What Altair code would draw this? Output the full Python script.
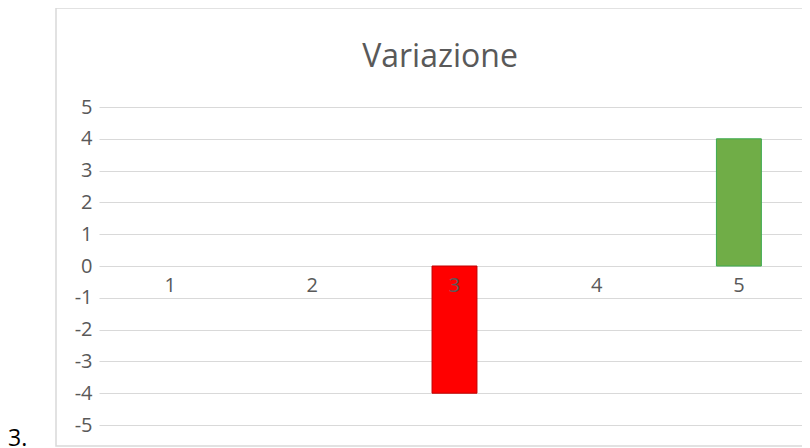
import altair as alt
import pandas as pd

categories = [1, 2, 3, 4, 5]
values = [0, 0, -4, 0, 4]
y_ticks = [-5, -4, -3, -2, -1, 0, 1, 2, 3, 4, 5]
title_text = "Variazione"
side_label = "3."

df = pd.DataFrame({"cat": categories, "value": values})

FONT = "Open Sans"
GRAY = "#595959"

xscale = alt.Scale(domain=categories, paddingInner=0.684, paddingOuter=0.342)
yscale = alt.Scale(domain=[-5, 5], nice=False)
yaxis = alt.Axis(values=y_ticks, grid=True, gridColor="#D9D9D9", gridWidth=1,
                 domain=False, ticks=False, labelPadding=7, labelFontSize=20,
                 labelFont=FONT, labelColor=GRAY, title=None, labelOverlap=False,
                 labelExpr="'' + datum.value")

base = alt.Chart(df)

bars = base.transform_filter("datum.value != 0").mark_bar(strokeWidth=1).encode(
    x=alt.X("cat:O", scale=xscale, axis=None),
    y=alt.Y("value:Q", scale=yscale, axis=yaxis),
    y2=alt.datum(0),
    color=alt.condition("datum.value < 0", alt.value("#FF0000"), alt.value("#70AD47")),
    stroke=alt.condition("datum.value < 0", alt.value("#C00000"), alt.value("#3DAA4F")),
)

xlabels = base.mark_text(font=FONT, fontSize=20, color=GRAY, baseline="middle", dy=20).encode(
    x=alt.X("cat:O", scale=xscale, axis=None),
    y=alt.datum(0, scale=yscale, axis=yaxis),
    text=alt.Text("cat:N"),
)

border = alt.Chart(pd.DataFrame({"a": [0]})).mark_rect(fill=None, stroke="#D9D9D9", strokeWidth=1.5).encode(
    x=alt.value(-43), x2=alt.value(740), y=alt.value(-99), y2=alt.value(339)
)

side = alt.Chart(pd.DataFrame({"t": [side_label]})).mark_text(
    font=FONT, fontSize=23, color="#000000", align="left", baseline="alphabetic"
).encode(x=alt.value(-91), y=alt.value(339), text="t:N")

title = alt.Chart(pd.DataFrame({"t": [title_text]})).mark_text(
    font=FONT, fontSize=32, color=GRAY, align="center", baseline="alphabetic"
).encode(x=alt.value(341), y=alt.value(-40), text="t:N")

chart = alt.layer(border, bars, xlabels, side, title).properties(
    width=711, height=318,
    padding={"left": 91, "top": 99, "right": -8, "bottom": 23},
    autosize=alt.AutoSizeParams(type="none"),
).configure_view(stroke=None)

chart.save("out.html", embed_options={"renderer": "svg", "actions": False})
